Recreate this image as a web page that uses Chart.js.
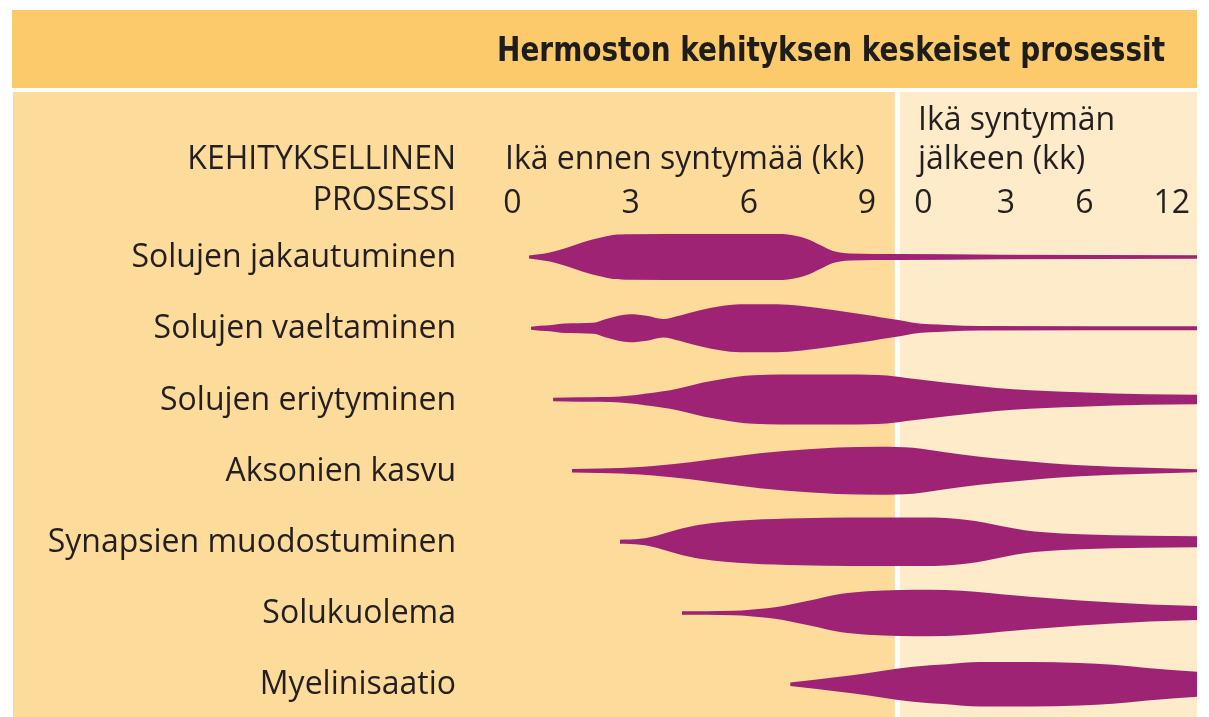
<!DOCTYPE html>
<html>
<head>
<meta charset="utf-8">
<script src="https://cdn.jsdelivr.net/npm/chart.js@4.4.1/dist/chart.umd.min.js"></script>
<style>
  html, body { margin: 0; padding: 0; background: #ffffff; }
  #wrap { position: relative; width: 1209px; height: 717px; overflow: hidden; }
  #c { position: absolute; left: 0; top: 0; }
  #overlay { position: absolute; left: 0; top: 0; pointer-events: none; }
  .hdr { font-family: 'Open Sans', 'Noto Sans', sans-serif; font-size: 32px; fill: #231f20; }
  .ttl { font-family: 'DejaVu Sans Condensed', 'DejaVu Sans', sans-serif; font-stretch: condensed; font-weight: bold; font-size: 34px; fill: #1d1d1b; }
</style>
</head>
<body>
<div id="wrap">
  <canvas id="c" width="1209" height="717"></canvas>
  <svg id="overlay" width="1209" height="717" xmlns="http://www.w3.org/2000/svg">
    <rect x="12" y="10" width="1185" height="78" fill="#FCCA6B"/>
    <text class="ttl" x="1165" y="61" text-anchor="end" textLength="668" lengthAdjust="spacingAndGlyphs">Hermoston kehityksen keskeiset prosessit</text>
    <text class="hdr" x="456" y="169" text-anchor="end">KEHITYKSELLINEN</text>
    <text class="hdr" x="456" y="210" text-anchor="end">PROSESSI</text>
    <text class="hdr" x="505" y="169">Ikä ennen syntymää (kk)</text>
    <text class="hdr" x="918" y="130">Ikä syntymän</text>
    <text class="hdr" x="918" y="169">jälkeen (kk)</text>
  </svg>
</div>
<script>
// ---- data ----
const processes = [
  'Solujen jakautuminen',
  'Solujen vaeltaminen',
  'Solujen eriytyminen',
  'Aksonien kasvu',
  'Synapsien muodostuminen',
  'Solukuolema',
  'Myelinisaatio'
];

// age axis: prenatal months 0..9, then postnatal months (compressed) after birth
const tickPositions = [0, 3, 6, 9, 10.43, 12.53, 14.52, 16.74];
const tickLabels = ['0', '3', '6', '9', '0', '3', '6', '12'];
const birthLine = 9.77;

// relative intensity (0-100) of each process along the age axis
const jakautuminenAge   = [0.42, 0.62, 0.95, 1.38, 1.79, 2.22, 2.55, 2.98, 4.76, 6.87, 7.12, 7.48, 7.81, 8.14, 8.57, 9.84, 12.38, 17.38];
const jakautuminenLevel = [6, 10, 18, 37, 59, 77, 88, 91, 92, 92, 87, 72, 48, 24, 14, 12, 9, 7];

const vaeltaminenAge   = [0.47, 0.70, 0.95, 1.33, 2.05, 2.40, 2.98, 3.41, 3.82, 4.26, 4.76, 5.27, 5.78, 6.72, 7.30, 8.14, 9.00, 9.33, 9.84, 10.17, 11.03, 11.87, 17.38];
const vaeltaminenLevel = [6, 10, 12, 19, 22, 38, 56, 50, 37, 51, 72, 88, 96, 96, 90, 73, 53, 44, 32, 22, 13, 9, 8];

const eriytyminenAge   = [1.03, 1.71, 2.73, 3.57, 4.00, 4.43, 4.84, 5.27, 5.70, 6.11, 6.79, 8.57, 9.51, 10.17, 11.03, 12.71, 14.41, 16.11, 17.38];
const eriytyminenLevel = [7, 9, 12, 27, 37, 52, 68, 80, 91, 97, 100, 100, 96, 83, 67, 41, 29, 21, 19];

const aksonitAge   = [1.51, 2.22, 3.24, 3.57, 4.51, 5.27, 6.28, 6.97, 8.24, 9.33, 10.17, 11.03, 11.87, 12.71, 14.41, 16.11, 17.38];
const aksonitLevel = [7, 9, 15, 19, 34, 50, 70, 80, 93, 96, 92, 73, 56, 43, 22, 12, 6];

const synapsitAge   = [2.73, 3.24, 3.49, 3.87, 4.18, 4.76, 6.03, 7.30, 8.57, 10.40, 11.00, 11.50, 12.00, 12.50, 13.00, 13.50, 14.41, 16.11, 17.38];
const synapsitLevel = [8, 12, 18, 34, 48, 68, 87, 94, 97, 97, 95, 88, 76, 60, 46, 38, 30, 24, 22];

const solukuolemaAge   = [4.30, 5.60, 6.46, 6.87, 7.30, 7.73, 8.14, 8.57, 9.00, 9.84, 10.60, 11.40, 12.10, 12.71, 13.57, 14.41, 15.25, 16.18, 17.38];
const solukuolemaLevel = [7, 9, 19, 28, 42, 56, 71, 81, 87, 92, 93, 89, 80, 71, 60, 50, 42, 34, 28];

const myelinAge   = [7.05, 7.73, 8.14, 9.00, 9.33, 10.17, 11.03, 11.87, 13.14, 14.41, 15.25, 16.11, 17.38];
const myelinLevel = [7, 19, 27, 44, 52, 70, 80, 89, 89, 85, 78, 65, 50];

// ---- styling ----
const PURPLE = '#9E2375';
const LEFT_BG = '#FDDB9B';
const RIGHT_BG = '#FEEBC9';
const TEXT = '#231f20';
const maxHalfHeight = 0.351; // in row units for intensity 100

const rows = [
  [jakautuminenAge, jakautuminenLevel],
  [vaeltaminenAge, vaeltaminenLevel],
  [eriytyminenAge, eriytyminenLevel],
  [aksonitAge, aksonitLevel],
  [synapsitAge, synapsitLevel],
  [solukuolemaAge, solukuolemaLevel],
  [myelinAge, myelinLevel]
];

const datasets = [];
rows.forEach(([ages, levels], i) => {
  const k = maxHalfHeight / 100;
  datasets.push({
    label: processes[i] + ' (yläreuna)',
    data: ages.map((a, j) => ({ x: a, y: i - levels[j] * k })),
    fill: false,
    borderColor: PURPLE,
    backgroundColor: PURPLE
  });
  datasets.push({
    label: processes[i],
    data: ages.map((a, j) => ({ x: a, y: i + levels[j] * k })),
    fill: '-1',
    borderColor: PURPLE,
    backgroundColor: PURPLE
  });
});

const panelsPlugin = {
  id: 'panels',
  beforeDraw(chart) {
    const { ctx, chartArea } = chart;
    const div = chart.scales.x.getPixelForValue(birthLine);
    ctx.save();
    ctx.fillStyle = LEFT_BG;
    ctx.fillRect(13, 92, div - 2.5 - 13, 717 - 92);
    ctx.fillStyle = RIGHT_BG;
    ctx.fillRect(div + 2.5, 92, chartArea.right - div - 2.5, 717 - 92);
    ctx.restore();
  }
};

Chart.defaults.font.family = "'Open Sans', 'Noto Sans', sans-serif";
Chart.defaults.color = TEXT;

new Chart(document.getElementById('c'), {
  type: 'line',
  data: { datasets },
  options: {
    responsive: false,
    animation: false,
    events: [],
    layout: { padding: { top: 0, left: 0, right: 12, bottom: 0 } },
    elements: {
      point: { radius: 0, hoverRadius: 0 },
      line: { borderWidth: 0, cubicInterpolationMode: 'monotone' }
    },
    plugins: {
      legend: { display: false },
      tooltip: { enabled: false },
      title: { display: false }
    },
    scales: {
      x: {
        type: 'linear',
        position: 'top',
        min: -1.028,
        max: 17.38,
        grid: { display: false, drawTicks: false },
        border: { display: false },
        afterBuildTicks(scale) {
          scale.ticks = tickPositions.map(v => ({ value: v }));
        },
        afterFit(scale) {
          scale.height = 220;
          scale.paddingLeft = 0;
          scale.paddingRight = 0;
        },
        ticks: {
          autoSkip: false,
          maxRotation: 0,
          padding: -3,
          color: TEXT,
          font: { size: 32 },
          callback: (value, index) => tickLabels[index]
        }
      },
      y: {
        type: 'linear',
        reverse: true,
        min: -0.52,
        max: 6.46,
        grid: { display: false, drawTicks: false },
        border: { display: false },
        afterBuildTicks(scale) {
          scale.ticks = processes.map((p, i) => ({ value: i }));
        },
        afterFit(scale) {
          scale.width = 472;
          scale.paddingTop = 0;
          scale.paddingBottom = 0;
        },
        ticks: {
          autoSkip: false,
          padding: 16,
          labelOffset: 1,
          color: TEXT,
          font: { size: 32 },
          callback: (value, index) => processes[index]
        }
      }
    }
  },
  plugins: [panelsPlugin]
});
</script>
</body>
</html>
